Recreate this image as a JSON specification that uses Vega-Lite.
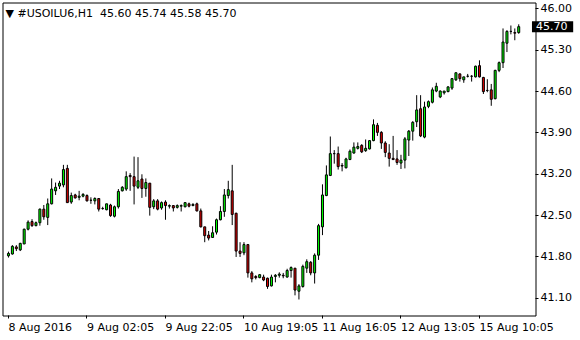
{
  "$schema": "https://vega.github.io/schema/vega-lite/v6.json",
  "autosize": {"type": "none"},
  "padding": {"left": 2.5, "top": 2.5, "right": 44.5, "bottom": 24.5},
  "width": 533,
  "height": 313,
  "background": "white",
  "title": {"text": "▼ #USOILU6,H1\u00a0\u00a045.60 45.74 45.58 45.70", "anchor": "start", "frame": "group", "orient": "top", "offset": -16, "dx": 3, "dy": 9, "font": "DejaVu Sans", "fontSize": 11, "fontWeight": "normal", "color": "black", "baseline": "alphabetic"},
  "config": {
    "view": {"stroke": "black", "strokeWidth": 1},
    "axis": {"translate": 0, "grid": false, "domain": false, "tickColor": "black", "tickSize": 3, "labelColor": "black", "labelFont": "DejaVu Sans", "labelFontSize": 11, "title": null}
  },
  "data": {"values": [
    {"i":0,"O":41.82,"H":41.89,"L":41.79,"C":41.86},
    {"i":1,"O":41.85,"H":42.00,"L":41.84,"C":41.98},
    {"i":2,"O":41.97,"H":42.00,"L":41.90,"C":41.94},
    {"i":3,"O":41.92,"H":42.04,"L":41.90,"C":42.03},
    {"i":4,"O":42.02,"H":42.28,"L":42.02,"C":42.27},
    {"i":5,"O":42.27,"H":42.42,"L":42.25,"C":42.39},
    {"i":6,"O":42.40,"H":42.44,"L":42.31,"C":42.33},
    {"i":7,"O":42.33,"H":42.40,"L":42.32,"C":42.38},
    {"i":8,"O":42.38,"H":42.62,"L":42.33,"C":42.61},
    {"i":9,"O":42.61,"H":42.68,"L":42.43,"C":42.48},
    {"i":10,"O":42.47,"H":42.79,"L":42.34,"C":42.70},
    {"i":11,"O":42.70,"H":43.13,"L":42.69,"C":42.95},
    {"i":12,"O":42.92,"H":43.06,"L":42.85,"C":42.98},
    {"i":13,"O":43.00,"H":43.09,"L":42.95,"C":43.05},
    {"i":14,"O":43.02,"H":43.36,"L":42.98,"C":43.28},
    {"i":15,"O":43.30,"H":43.36,"L":42.72,"C":42.72},
    {"i":16,"O":42.73,"H":42.89,"L":42.70,"C":42.84},
    {"i":17,"O":42.85,"H":42.87,"L":42.79,"C":42.80},
    {"i":18,"O":42.81,"H":42.92,"L":42.76,"C":42.83},
    {"i":19,"O":42.83,"H":42.88,"L":42.81,"C":42.86},
    {"i":20,"O":42.84,"H":42.86,"L":42.74,"C":42.75},
    {"i":21,"O":42.76,"H":42.81,"L":42.70,"C":42.76},
    {"i":22,"O":42.75,"H":42.81,"L":42.69,"C":42.79},
    {"i":23,"O":42.79,"H":42.79,"L":42.57,"C":42.61},
    {"i":24,"O":42.62,"H":42.65,"L":42.60,"C":42.62},
    {"i":25,"O":42.60,"H":42.70,"L":42.59,"C":42.70},
    {"i":26,"O":42.68,"H":42.70,"L":42.48,"C":42.50},
    {"i":27,"O":42.49,"H":42.67,"L":42.47,"C":42.65},
    {"i":28,"O":42.65,"H":42.95,"L":42.62,"C":42.91},
    {"i":29,"O":42.92,"H":43.00,"L":42.91,"C":42.98},
    {"i":30,"O":42.95,"H":43.25,"L":42.92,"C":43.16},
    {"i":31,"O":43.18,"H":43.22,"L":42.92,"C":43.16},
    {"i":32,"O":43.16,"H":43.50,"L":42.69,"C":43.00},
    {"i":33,"O":42.98,"H":43.49,"L":42.95,"C":43.09},
    {"i":34,"O":43.12,"H":43.20,"L":42.80,"C":42.96},
    {"i":35,"O":42.96,"H":43.13,"L":42.82,"C":43.06},
    {"i":36,"O":43.05,"H":43.05,"L":42.50,"C":42.64},
    {"i":37,"O":42.65,"H":42.78,"L":42.61,"C":42.75},
    {"i":38,"O":42.75,"H":42.78,"L":42.59,"C":42.61},
    {"i":39,"O":42.63,"H":42.74,"L":42.60,"C":42.72},
    {"i":40,"O":42.73,"H":42.76,"L":42.43,"C":42.67},
    {"i":41,"O":42.66,"H":42.69,"L":42.62,"C":42.67},
    {"i":42,"O":42.67,"H":42.68,"L":42.57,"C":42.63},
    {"i":43,"O":42.64,"H":42.69,"L":42.62,"C":42.67},
    {"i":44,"O":42.66,"H":42.69,"L":42.57,"C":42.67},
    {"i":45,"O":42.65,"H":42.73,"L":42.64,"C":42.72},
    {"i":46,"O":42.70,"H":42.72,"L":42.64,"C":42.66},
    {"i":47,"O":42.67,"H":42.71,"L":42.66,"C":42.69},
    {"i":48,"O":42.70,"H":42.72,"L":42.57,"C":42.58},
    {"i":49,"O":42.58,"H":42.62,"L":42.30,"C":42.31},
    {"i":50,"O":42.31,"H":42.31,"L":42.05,"C":42.16},
    {"i":51,"O":42.17,"H":42.24,"L":42.08,"C":42.12},
    {"i":52,"O":42.13,"H":42.32,"L":42.13,"C":42.21},
    {"i":53,"O":42.22,"H":42.45,"L":42.18,"C":42.43},
    {"i":54,"O":42.43,"H":42.66,"L":42.42,"C":42.57},
    {"i":55,"O":42.57,"H":42.95,"L":42.48,"C":42.85},
    {"i":56,"O":42.84,"H":43.09,"L":42.79,"C":42.94},
    {"i":57,"O":42.92,"H":43.36,"L":42.34,"C":42.52},
    {"i":58,"O":42.54,"H":42.55,"L":41.80,"C":41.90},
    {"i":59,"O":41.90,"H":42.05,"L":41.80,"C":41.86},
    {"i":60,"O":41.87,"H":42.05,"L":41.83,"C":42.01},
    {"i":61,"O":42.01,"H":42.02,"L":41.45,"C":41.53},
    {"i":62,"O":41.53,"H":41.56,"L":41.37,"C":41.43},
    {"i":63,"O":41.47,"H":41.49,"L":41.42,"C":41.45},
    {"i":64,"O":41.45,"H":41.51,"L":41.44,"C":41.50},
    {"i":65,"O":41.46,"H":41.50,"L":41.39,"C":41.41},
    {"i":66,"O":41.44,"H":41.45,"L":41.26,"C":41.30},
    {"i":67,"O":41.31,"H":41.50,"L":41.30,"C":41.46},
    {"i":68,"O":41.47,"H":41.51,"L":41.37,"C":41.49},
    {"i":69,"O":41.49,"H":41.54,"L":41.45,"C":41.51},
    {"i":70,"O":41.49,"H":41.53,"L":41.44,"C":41.48},
    {"i":71,"O":41.46,"H":41.60,"L":41.45,"C":41.57},
    {"i":72,"O":41.57,"H":41.64,"L":41.45,"C":41.62},
    {"i":73,"O":41.61,"H":41.61,"L":41.15,"C":41.24},
    {"i":74,"O":41.22,"H":41.34,"L":41.08,"C":41.31},
    {"i":75,"O":41.30,"H":41.67,"L":41.28,"C":41.64},
    {"i":76,"O":41.61,"H":41.76,"L":41.53,"C":41.72},
    {"i":77,"O":41.71,"H":41.73,"L":41.49,"C":41.53},
    {"i":78,"O":41.53,"H":41.86,"L":41.35,"C":41.83},
    {"i":79,"O":41.83,"H":42.36,"L":41.75,"C":42.33},
    {"i":80,"O":42.31,"H":43.03,"L":42.17,"C":42.85},
    {"i":81,"O":42.84,"H":43.35,"L":42.83,"C":43.19},
    {"i":82,"O":43.18,"H":43.84,"L":43.17,"C":43.55},
    {"i":83,"O":43.55,"H":43.61,"L":43.38,"C":43.55},
    {"i":84,"O":43.55,"H":43.67,"L":43.28,"C":43.33},
    {"i":85,"O":43.35,"H":43.39,"L":43.25,"C":43.34},
    {"i":86,"O":43.31,"H":43.48,"L":43.30,"C":43.46},
    {"i":87,"O":43.45,"H":43.62,"L":43.44,"C":43.59},
    {"i":88,"O":43.56,"H":43.74,"L":43.55,"C":43.66},
    {"i":89,"O":43.64,"H":43.74,"L":43.62,"C":43.67},
    {"i":90,"O":43.69,"H":43.71,"L":43.56,"C":43.58},
    {"i":91,"O":43.60,"H":43.79,"L":43.58,"C":43.64},
    {"i":92,"O":43.63,"H":43.78,"L":43.62,"C":43.77},
    {"i":93,"O":43.77,"H":44.13,"L":43.76,"C":44.04},
    {"i":94,"O":44.03,"H":44.07,"L":43.85,"C":43.91},
    {"i":95,"O":43.91,"H":43.93,"L":43.63,"C":43.73},
    {"i":96,"O":43.73,"H":43.76,"L":43.49,"C":43.57},
    {"i":97,"O":43.56,"H":43.71,"L":43.33,"C":43.47},
    {"i":98,"O":43.47,"H":43.85,"L":43.44,"C":43.45},
    {"i":99,"O":43.46,"H":43.61,"L":43.36,"C":43.40},
    {"i":100,"O":43.39,"H":43.53,"L":43.29,"C":43.44},
    {"i":101,"O":43.44,"H":43.83,"L":43.30,"C":43.80},
    {"i":102,"O":43.78,"H":43.95,"L":43.51,"C":43.93},
    {"i":103,"O":43.93,"H":44.10,"L":43.77,"C":44.08},
    {"i":104,"O":44.09,"H":44.54,"L":44.00,"C":44.29},
    {"i":105,"O":44.31,"H":44.54,"L":43.83,"C":43.85},
    {"i":106,"O":43.83,"H":44.43,"L":43.81,"C":44.34},
    {"i":107,"O":44.35,"H":44.45,"L":44.32,"C":44.43},
    {"i":108,"O":44.42,"H":44.67,"L":44.40,"C":44.63},
    {"i":109,"O":44.61,"H":44.75,"L":44.59,"C":44.69},
    {"i":110,"O":44.51,"H":44.62,"L":44.49,"C":44.61},
    {"i":111,"O":44.58,"H":44.61,"L":44.55,"C":44.61},
    {"i":112,"O":44.60,"H":44.69,"L":44.59,"C":44.68},
    {"i":113,"O":44.66,"H":44.83,"L":44.63,"C":44.82},
    {"i":114,"O":44.80,"H":44.92,"L":44.78,"C":44.92},
    {"i":115,"O":44.90,"H":44.91,"L":44.77,"C":44.82},
    {"i":116,"O":44.80,"H":44.85,"L":44.75,"C":44.85},
    {"i":117,"O":44.86,"H":44.90,"L":44.84,"C":44.86},
    {"i":118,"O":44.86,"H":44.88,"L":44.77,"C":44.86},
    {"i":119,"O":44.85,"H":45.04,"L":44.84,"C":45.03},
    {"i":120,"O":45.04,"H":45.13,"L":44.84,"C":44.85},
    {"i":121,"O":44.84,"H":44.85,"L":44.56,"C":44.60},
    {"i":122,"O":44.62,"H":44.81,"L":44.59,"C":44.62},
    {"i":123,"O":44.63,"H":44.73,"L":44.36,"C":44.47},
    {"i":124,"O":44.48,"H":44.97,"L":44.47,"C":44.96},
    {"i":125,"O":44.96,"H":45.11,"L":44.93,"C":45.09},
    {"i":126,"O":45.09,"H":45.67,"L":45.00,"C":45.44},
    {"i":127,"O":45.42,"H":45.64,"L":45.27,"C":45.62},
    {"i":128,"O":45.62,"H":45.72,"L":45.57,"C":45.62},
    {"i":129,"O":45.60,"H":45.67,"L":45.47,"C":45.59},
    {"i":130,"O":45.60,"H":45.74,"L":45.58,"C":45.70}
  ]},
  "layer": [
    {
      "mark": {"type": "rule", "color": "black", "strokeWidth": 1},
      "encoding": {
        "x": {"field": "i", "type": "quantitative",
              "scale": {"domain": [-0.25, 133.0], "nice": false, "zero": false},
              "axis": {"orient": "bottom", "values": [0, 20, 40, 60, 80, 100, 120], "labelAlign": "left", "labelPadding": 3, "labelOverlap": false, "labelFlush": false,
                       "labelExpr": "datum.value==0?'8 Aug 2016':datum.value==20?'9 Aug 02:05':datum.value==40?'9 Aug 22:05':datum.value==60?'10 Aug 19:05':datum.value==80?'11 Aug 16:05':datum.value==100?'12 Aug 13:05':'15 Aug 10:05'"}},
        "y": {"field": "L", "type": "quantitative",
              "scale": {"domain": [40.8934, 46.0246], "nice": false, "zero": false},
              "axis": {"orient": "right", "values": [41.1, 41.8, 42.5, 43.2, 43.9, 44.6, 45.3, 46.0], "format": ".2f", "labelPadding": 2, "labelBaseline": "middle", "labelOverlap": false, "labelFlush": false}},
        "y2": {"field": "H"}
      }
    },
    {
      "mark": {"type": "bar", "width": 2, "stroke": "black", "strokeWidth": 1},
      "encoding": {
        "x": {"field": "i", "type": "quantitative"},
        "y": {"field": "O", "type": "quantitative"},
        "y2": {"field": "C"},
        "fill": {"condition": {"test": "datum.C >= datum.O", "value": "#00FF00"}, "value": "#E00000"}
      }
    },
    {
      "transform": [{"filter": "datum.i == 130"}],
      "mark": {"type": "bar", "orient": "horizontal", "height": 11, "color": "black"},
      "encoding": {
        "x": {"datum": 133.375, "type": "quantitative"},
        "x2": {"datum": 143.875},
        "y": {"field": "C", "type": "quantitative"}
      }
    },
    {
      "transform": [{"filter": "datum.i == 130"}],
      "mark": {"type": "text", "align": "left", "baseline": "middle", "color": "white", "font": "DejaVu Sans", "fontSize": 11},
      "encoding": {
        "x": {"datum": 134.375, "type": "quantitative"},
        "y": {"field": "C", "type": "quantitative"},
        "text": {"field": "C", "type": "quantitative", "format": ".2f"}
      }
    }
  ]
}
